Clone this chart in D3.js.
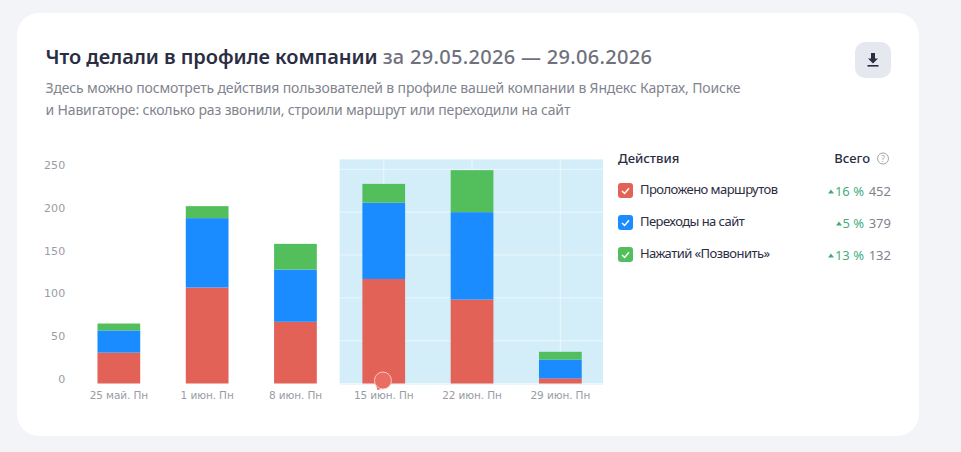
<!DOCTYPE html>
<html>
<head>
<meta charset="utf-8">
<script src="https://cdn.jsdelivr.net/npm/d3@7"></script>
<style>
    html, body { margin: 0; padding: 0; background: #f3f4f8; overflow: hidden; }
    text { font-family: "Noto Sans", sans-serif; }
    .tick-label text { font-family: "DejaVu Sans", sans-serif; }
</style>
</head>
<body>
<div id="chart"></div>
<script>
const weeks = ["25 май. Пн", "1 июн. Пн", "8 июн. Пн", "15 июн. Пн", "22 июн. Пн", "29 июн. Пн"];
const routes = [36, 112, 72, 122, 98, 6];
const sites = [26, 81, 61, 89, 102, 22];
const calls = [8, 14, 30, 22, 49, 9];
const yTicks = [0, 50, 100, 150, 200, 250];
const highlightFrom = "15 июн. Пн";

const seriesNames = ["Проложено маршрутов", "Переходы на сайт", "Нажатий «Позвонить»"];
const seriesColors = ["#e26257", "#1a8cff", "#52bf5c"];
const seriesChange = ["16 %", "5 %", "13 %"];
const seriesTotal = ["452", "379", "132"];

const rows = weeks.map((w, i) => ({ week: w, routes: routes[i], sites: sites[i], calls: calls[i] }));

const svg = d3.select("#chart").append("svg")
    .attr("width", 961)
    .attr("height", 452);

// card
svg.append("rect")
    .attr("x", 17).attr("y", 13)
    .attr("width", 902).attr("height", 423)
    .attr("rx", 22)
    .attr("fill", "#ffffff");

// header
const title = svg.append("text")
    .attr("x", 45.5).attr("y", 64)
    .attr("font-size", 20)
    .attr("font-weight", 600)
    .attr("fill", "#2b2d42");
title.append("tspan").attr("letter-spacing", -0.07).text("Что делали в профиле компании ");
title.append("tspan").attr("fill", "#6f717c").attr("font-weight", 500).attr("letter-spacing", 0.3).text("за 29.05.2026 — 29.06.2026");

svg.append("text")
    .attr("x", 45.5).attr("y", 93)
    .attr("font-size", 14)
    .attr("letter-spacing", -0.15)
    .attr("fill", "#82848e")
    .text("Здесь можно посмотреть действия пользователей в профиле вашей компании в Яндекс Картах, Поиске");
svg.append("text")
    .attr("x", 45.5).attr("y", 115)
    .attr("font-size", 14)
    .attr("letter-spacing", -0.16)
    .attr("fill", "#82848e")
    .text("и Навигаторе: сколько раз звонили, строили маршрут или переходили на сайт");

// download button
const btn = svg.append("g").attr("transform", "translate(873,60)");
btn.append("rect").attr("x", -18).attr("y", -18).attr("width", 36).attr("height", 36).attr("rx", 10).attr("fill", "#e6e8ef");
btn.append("path").attr("d", "M-2,-7H2V-1.5H5L0,3.5L-5,-1.5H-2Z").attr("fill", "#2b2d42");
btn.append("rect").attr("x", -5.5).attr("y", 5).attr("width", 11).attr("height", 1.6).attr("fill", "#2b2d42");

// chart
const x = d3.scaleBand()
    .domain(weeks)
    .range([74.7, 604.5])
    .paddingInner(0.516)
    .paddingOuter(0.258);
const y = d3.scaleLinear()
    .domain([0, 250])
    .range([383.5, 169.3]);

const gap = x.step() - x.bandwidth();
svg.append("rect")
    .attr("x", x(highlightFrom) - gap / 2)
    .attr("y", y(250) - 10)
    .attr("width", x.range()[1] - x(highlightFrom) + gap / 2 - 1.5)
    .attr("height", y(0) - y(250) + 11)
    .attr("fill", "#d4eef9");

// grid, barely visible on white, clear on the highlighted area
const grid = svg.append("g").attr("stroke", "#ffffff").attr("stroke-opacity", 0.55);
grid.selectAll("line.h").data(yTicks).join("line")
    .attr("class", "h")
    .attr("x1", 75).attr("x2", 603)
    .attr("y1", d => y(d)).attr("y2", d => y(d));
grid.selectAll("line.v").data(weeks).join("line")
    .attr("class", "v")
    .attr("x1", d => x(d) + x.bandwidth() / 2).attr("x2", d => x(d) + x.bandwidth() / 2)
    .attr("y1", y(250) - 10).attr("y2", y(0));

const stack = d3.stack().keys(["routes", "sites", "calls"])(rows);
svg.append("g").selectAll("g")
    .data(stack)
    .join("g")
    .attr("fill", (d, i) => seriesColors[i])
    .selectAll("rect")
    .data(d => d)
    .join("rect")
    .attr("x", d => x(d.data.week))
    .attr("y", d => y(d[1]))
    .attr("width", x.bandwidth())
    .attr("height", d => y(d[0]) - y(d[1]));

// axes
const axisY = svg.append("g")
    .attr("class", "tick-label")
    .attr("transform", "translate(65.5,-4.5)")
    .call(d3.axisLeft(y).tickValues(yTicks).tickSize(0).tickPadding(0));
axisY.select(".domain").remove();
axisY.selectAll("text").attr("font-size", 11).attr("fill", "#9a9ca4").attr("letter-spacing", 0.2);

const axisX = svg.append("g")
    .attr("class", "tick-label")
    .attr("transform", "translate(0,392)")
    .call(d3.axisBottom(x).tickSize(0).tickPadding(0));
axisX.select(".domain").remove();
axisX.selectAll("text").attr("font-size", 10.5).attr("fill", "#9a9ca4").attr("letter-spacing", -0.1);

// event marker
const pin = svg.append("g").attr("transform", `translate(${x(highlightFrom) + x.bandwidth() / 2 - 0.8},${y(0) - 3})`);
pin.append("path")
    .attr("d", "M-7,4 L-5.5,9.5 L0,8 Z")
    .attr("fill", "#e26257");
pin.append("circle")
    .attr("r", 8.5)
    .attr("fill", "#ea6c62")
    .attr("stroke", "#f8c9c4")
    .attr("stroke-width", 1);

// legend
svg.append("text").attr("x", 618).attr("y", 163)
    .attr("font-size", 13).attr("font-weight", 500).attr("fill", "#2b2d42").text("Действия");
svg.append("text").attr("x", 870).attr("y", 163).attr("text-anchor", "end")
    .attr("font-size", 13).attr("font-weight", 500).attr("fill", "#2b2d42").text("Всего");
const help = svg.append("g").attr("transform", "translate(883,158.5)");
help.append("circle").attr("r", 5.5).attr("fill", "none").attr("stroke", "#a2a4ad");
help.append("text").attr("text-anchor", "middle").attr("y", 3).attr("font-size", 8).attr("fill", "#a2a4ad").text("?");

const legendRow = svg.append("g").selectAll("g")
    .data(seriesNames)
    .join("g")
    .attr("transform", (d, i) => `translate(0,${190.5 + i * 32})`);
legendRow.append("rect")
    .attr("x", 618).attr("y", -7.5)
    .attr("width", 15).attr("height", 15).attr("rx", 3)
    .attr("fill", (d, i) => seriesColors[i]);
legendRow.append("path")
    .attr("d", "M622,0.5L624.6,3L629,-2.2")
    .attr("fill", "none").attr("stroke", "#fff").attr("stroke-width", 1.5);
legendRow.append("text")
    .attr("x", 640).attr("y", 3.5)
    .attr("font-size", 13).attr("letter-spacing", -0.55).attr("fill", "#2b2d42")
    .text(d => d);
legendRow.append("text")
    .attr("x", 891).attr("y", 5).attr("text-anchor", "end")
    .attr("font-size", 13).attr("fill", "#7f818b")
    .text((d, i) => seriesTotal[i]);
legendRow.append("text")
    .attr("x", 864).attr("y", 5).attr("text-anchor", "end")
    .attr("font-size", 13).attr("fill", "#3fae7f")
    .text((d, i) => seriesChange[i]);
legendRow.append("path")
    .attr("d", (d, i) => {
        const left = 864 - [36, 28, 36][i];
        return `M${left},3L${left + 3},-1L${left + 6},3Z`;
    })
    .attr("fill", "#3fae7f");
</script>
</body>
</html>
